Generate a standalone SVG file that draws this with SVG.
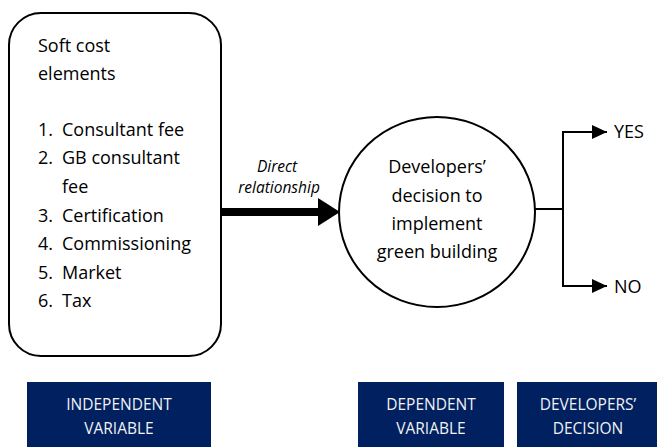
<svg xmlns="http://www.w3.org/2000/svg" width="657" height="447" viewBox="0 0 657 447">
<style>
.t{font-family:"Open Sans","Liberation Sans",sans-serif;font-size:18px;fill:#000}
.c{text-anchor:middle}
.i{font-family:"Open Sans","Liberation Sans",sans-serif;font-size:15.5px;font-style:italic;text-anchor:middle;fill:#000}
.b{fill:#002060}
.bt{font-family:"Open Sans","Liberation Sans",sans-serif;font-size:15.5px;fill:#f2f2f2;text-anchor:middle}
.ln{fill:none;stroke:#000;stroke-width:2}
</style>
<defs>
<marker id="ah" markerWidth="16" markerHeight="14" refX="15" refY="7" orient="auto" markerUnits="userSpaceOnUse">
<path d="M0,0 L15,7 L0,14 Z" fill="#000"/>
</marker>
</defs>
<g id="soft-cost">
<rect x="9" y="13" width="212" height="343" rx="32" ry="32" class="ln"/>
<text class="t" x="38" y="52">Soft cost</text>
<text class="t" x="38" y="80">elements</text>
<text class="t" x="38" y="136">1.</text><text class="t" x="62" y="136">Consultant fee</text>
<text class="t" x="38" y="164">2.</text><text class="t" x="62" y="164">GB consultant</text>
<text class="t" x="62" y="193">fee</text>
<text class="t" x="38" y="222">3.</text><text class="t" x="62" y="222">Certification</text>
<text class="t" x="38" y="250">4.</text><text class="t" x="62" y="250">Commissioning</text>
<text class="t" x="38" y="279">5.</text><text class="t" x="62" y="279">Market</text>
<text class="t" x="38" y="307">6.</text><text class="t" x="62" y="307">Tax</text>
</g>
<g id="decision">
<ellipse cx="437" cy="212" rx="98" ry="95" class="ln"/>
<text class="t c" x="437" y="173">Developers’</text>
<text class="t c" x="437" y="202">decision to</text>
<text class="t c" x="437" y="230">implement</text>
<text class="t c" x="437" y="258">green building</text>
</g>
<g id="yes"><text class="t" x="614" y="138">YES</text></g>
<g id="no"><text class="t" x="614" y="293">NO</text></g>
<g id="connectors">
<line x1="221" y1="212" x2="320" y2="212" stroke="#000" stroke-width="8"/>
<path d="M318,198 L340,212 L318,226 Z" fill="#000"/>
<text class="i" x="277" y="172">Direct</text>
<text class="i" x="279" y="193">relationship</text>
<line x1="535" y1="209" x2="563" y2="209" class="ln"/>
<path d="M563,132 L563,286" class="ln"/>
<path d="M562,132 L607,132" class="ln" marker-end="url(#ah)"/>
<path d="M562,286 L607,286" class="ln" marker-end="url(#ah)"/>
</g>
<g id="independent-variable">
<rect class="b" x="27" y="382" width="184" height="65"/>
<text class="bt" x="119" y="410">INDEPENDENT</text>
<text class="bt" x="119" y="434">VARIABLE</text>
</g>
<g id="dependent-variable">
<rect class="b" x="358" y="382" width="146" height="65"/>
<text class="bt" x="431" y="410">DEPENDENT</text>
<text class="bt" x="431" y="434">VARIABLE</text>
</g>
<g id="developers-decision">
<rect class="b" x="517" y="382" width="140" height="65"/>
<text class="bt" x="588" y="410">DEVELOPERS’</text>
<text class="bt" x="588" y="434">DECISION</text>
</g>
</svg>
